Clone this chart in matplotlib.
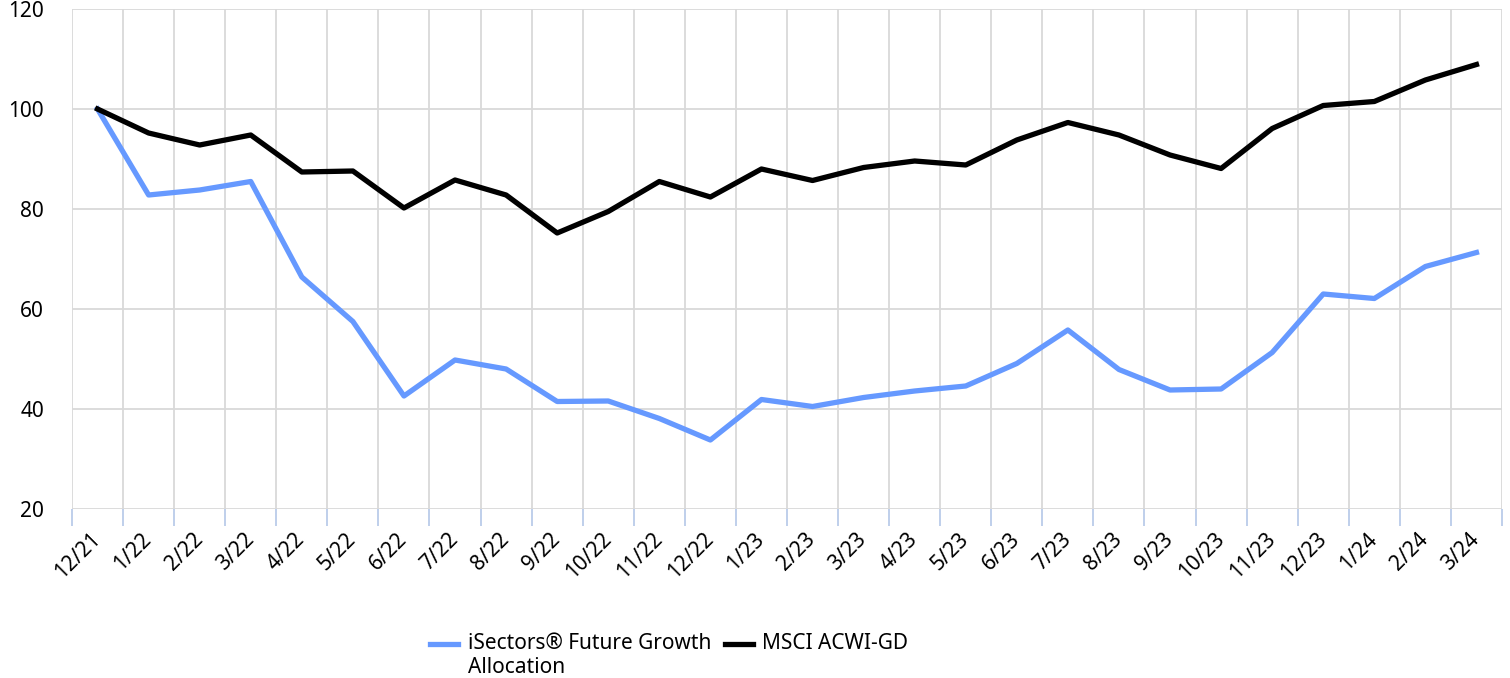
import matplotlib
matplotlib.use("Agg")
import matplotlib.pyplot as plt
from matplotlib.legend_handler import HandlerLine2D
import numpy as np

months = ["12/21", "1/22", "2/22", "3/22", "4/22", "5/22", "6/22", "7/22", "8/22",
          "9/22", "10/22", "11/22", "12/22", "1/23", "2/23", "3/23", "4/23", "5/23",
          "6/23", "7/23", "8/23", "9/23", "10/23", "11/23", "12/23", "1/24", "2/24", "3/24"]
isectors = [100, 82.8, 83.8, 85.5, 66.4, 57.5, 42.6, 49.8, 48.0, 41.5, 41.6, 38.1,
            33.8, 41.9, 40.5, 42.3, 43.6, 44.6, 49.1, 55.8, 47.9, 43.8, 44.0, 51.3,
            63.0, 62.1, 68.5, 71.3]
msci = [100, 95.2, 92.8, 94.8, 87.4, 87.6, 80.2, 85.8, 82.8, 75.2, 79.5, 85.5,
        82.4, 88.0, 85.7, 88.3, 89.6, 88.8, 93.8, 97.3, 94.8, 90.8, 88.1, 96.1,
        100.7, 101.5, 105.8, 108.9]
yticks = [20, 40, 60, 80, 100, 120]

plt.rcParams['font.family'] = ['Noto Sans', 'DejaVu Sans']


class TopLineHandler(HandlerLine2D):
    # put the legend line next to the first text line, not the middle of two
    def create_artists(self, legend, orig_handle, xdescent, ydescent, width, height, fontsize, trans):
        arts = super().create_artists(legend, orig_handle, xdescent, ydescent, width, height, fontsize, trans)
        for a in arts:
            a.set_ydata(np.asarray(a.get_ydata()) + 0.6 * fontsize)
        return arts


fig = plt.figure(figsize=(15.1, 6.78), dpi=100)
ax = fig.add_axes([72/1510, 1-509/678, (1502-72)/1510, (509-9)/678])

x = np.arange(len(months))
l1, = ax.plot(x, isectors, color="#6699ff", lw=3.8, label="iSectors® Future Growth\nAllocation")
l2, = ax.plot(x, msci, color="black", lw=3.8, label="MSCI ACWI-GD\n ")

ax.set_xlim(-0.5, len(months) - 0.5)
ax.set_ylim(20, 120)
ax.set_yticks(yticks)
ax.set_xticks(np.arange(len(months) + 1) - 0.5)
ax.set_xticklabels([])
ax.set_xticks(x, minor=True)
ax.set_xticklabels(months, minor=True, rotation=45, ha="right", va="center",
                   rotation_mode="anchor", fontsize=15)
ax.tick_params(axis="x", which="major", length=12, color="#b4c7e7", width=1.2)
ax.tick_params(axis="x", which="minor", length=0, pad=19.5)
ax.tick_params(axis="y", length=0, pad=20, labelsize=15)

ax.grid(True, which="major", color="#d9d9d9", lw=1.3)
ax.set_axisbelow(True)
for s in ax.spines.values():
    s.set_visible(False)

fig.legend(handles=[l1, l2], loc="upper left", bbox_to_anchor=(430/1510, 1-633/678),
           ncol=2, frameon=False, fontsize=15, handlelength=1.35, handletextpad=0.45,
           columnspacing=0.65, borderpad=0, borderaxespad=0,
           handler_map={l1: TopLineHandler(), l2: TopLineHandler()})

plt.savefig("out.png", dpi=100)
